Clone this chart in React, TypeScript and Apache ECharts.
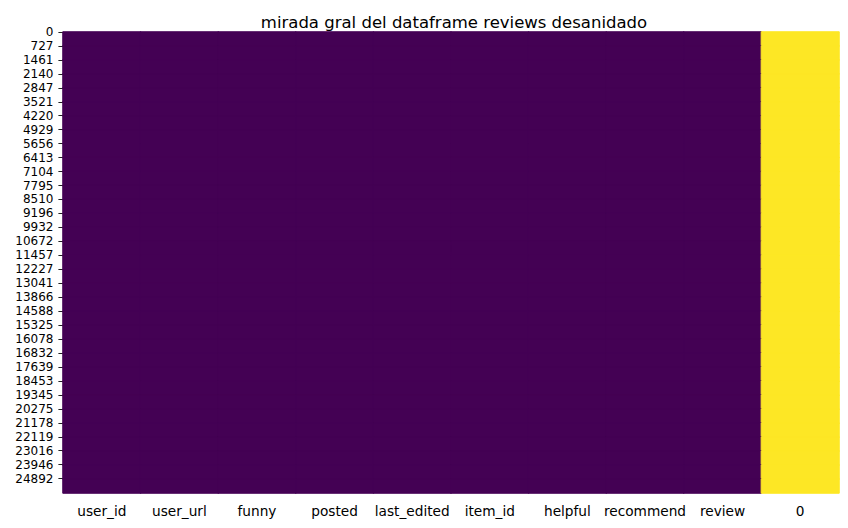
import React, { useEffect, useRef } from "react";
import * as echarts from "echarts";

const title = "mirada gral del dataframe reviews desanidado";
const columns = ["user_id", "user_url", "funny", "posted", "last_edited", "item_id", "helpful", "recommend", "review", "0"];
// 1 = value is missing (isnull), 0 = present, per column
const nullFlags = [0, 0, 0, 0, 0, 0, 0, 0, 0, 1];
const rowLabels = [
  "0", "727", "1461", "2140", "2847", "3521", "4220", "4929", "5656", "6413",
  "7104", "7795", "8510", "9196", "9932", "10672", "11457", "12227", "13041", "13866",
  "14588", "15325", "16078", "16832", "17639", "18453", "19345", "20275", "21178", "22119",
  "23016", "23946", "24892",
];
// total rows expressed in label-interval units
const totalSpan = 33.03;
const cmap = ["#440154", "#fde725"];

export default function App() {
  const ref = useRef<HTMLDivElement>(null);
  useEffect(() => {
    document.body.style.margin = "0";
    if (!ref.current) return;
    const chart = echarts.init(ref.current, undefined, { renderer: "svg" });
    const rows = rowLabels.map((_, i) => String(i));
    const data: any[] = [];
    rows.forEach((_, r) => {
      columns.forEach((_, c) => {
        const col = cmap[nullFlags[c]];
        data.push({
          value: [c, r, nullFlags[c]],
          itemStyle: { borderColor: col, borderWidth: 1 },
        });
      });
    });
    const font = "DejaVu Sans";
    const ticks = rowLabels.map((_, i) => i);
    chart.setOption({
      animation: false,
      textStyle: { fontFamily: font },
      title: {
        text: title,
        left: 449,
        textAlign: "center",
        top: 9,
        textStyle: { fontFamily: font, fontSize: 16.5, fontWeight: "normal", color: "#000" },
      },
      grid: { left: 63, top: 32, width: 776, height: 461, containLabel: false },
      xAxis: {
        type: "category",
        data: columns,
        axisLine: { show: false },
        axisTick: { show: true, alignWithLabel: true, length: 4.6, lineStyle: { color: "#222", width: 1 } },
        axisLabel: { color: "#000", fontSize: 13.7, fontFamily: font, margin: 10.5, interval: 0 },
        splitLine: { show: false },
      },
      yAxis: [
        {
          type: "category",
          data: rows,
          inverse: true,
          show: false,
        },
        {
          type: "value",
          position: "left",
          inverse: true,
          min: 0,
          max: totalSpan,
          axisLine: { show: false },
          splitLine: { show: false },
          axisTick: {
            show: true,
            length: 4.6,
            lineStyle: { color: "#222", width: 1 },
            customValues: ticks,
          },
          axisLabel: {
            color: "#000",
            fontSize: 12,
            lineHeight: 12,
            fontFamily: font,
            margin: 9.5,
            customValues: ticks,
            formatter: (v: number) => rowLabels[Math.round(v)] ?? "",
          },
        },
      ],
      visualMap: {
        show: false,
        type: "piecewise",
        dimension: 2,
        seriesIndex: 0,
        pieces: [
          { value: 0, color: cmap[0] },
          { value: 1, color: cmap[1] },
        ],
      },
      series: [
        {
          type: "heatmap",
          xAxisIndex: 0,
          yAxisIndex: 0,
          data,
          emphasis: { disabled: true },
        },
      ],
    });
    return () => chart.dispose();
  }, []);
  return <div ref={ref} style={{ width: 848, height: 528 }} />;
}
